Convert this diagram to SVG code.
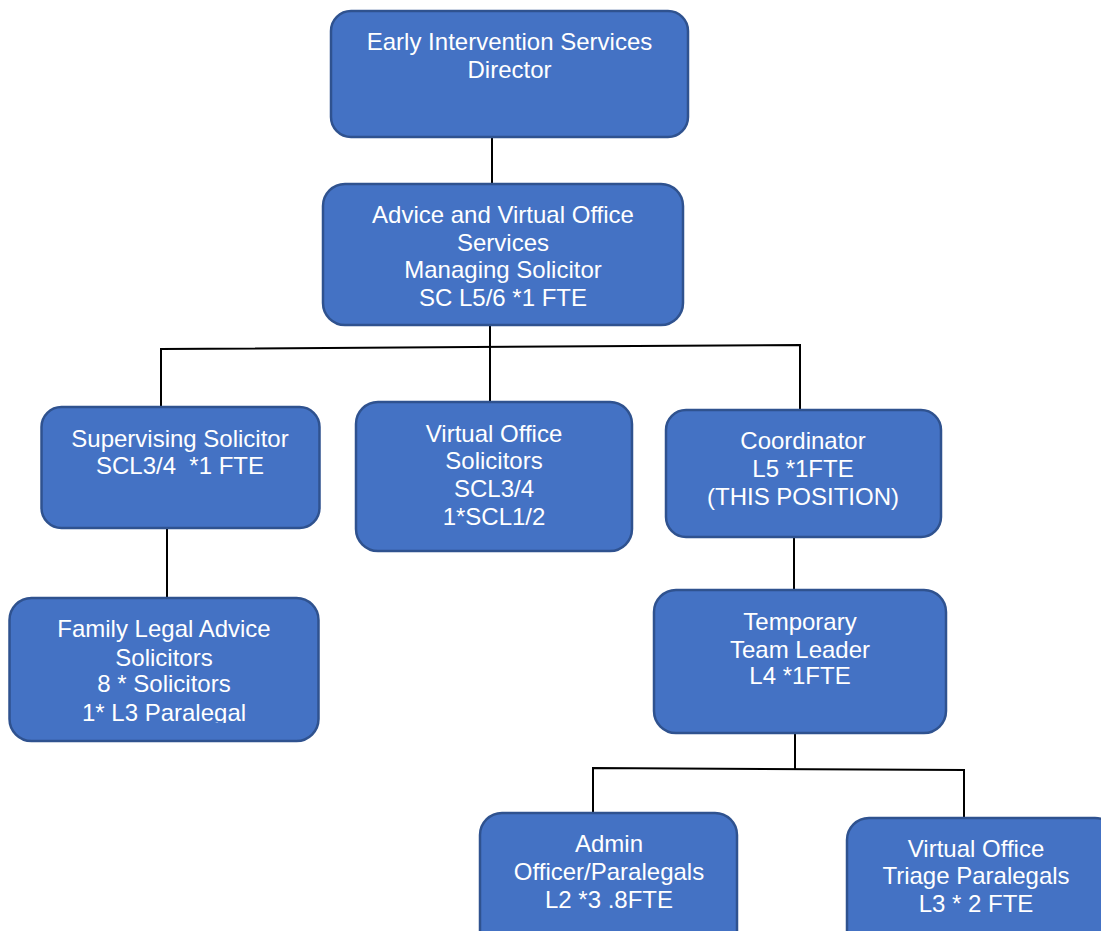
<svg xmlns="http://www.w3.org/2000/svg" width="1101" height="931" viewBox="0 0 1101 931">
<style>
.box{fill:#4472C4;stroke:#2F528F;stroke-width:2.5}
.t{font-family:"Liberation Sans",Arial,sans-serif;font-size:24px;fill:#fff;text-anchor:middle}
.c{fill:none;stroke:#000;stroke-width:2}
</style>
<rect width="1101" height="931" fill="#fff"/>
<defs><clipPath id="famclip"><rect x="0" y="590" width="340" height="133"/></clipPath></defs>
<g id="connectors">
<path class="c" d="M492 137V184"/>
<path class="c" d="M490 325V347"/>
<path class="c" d="M161 407V349L800 345V411"/>
<path class="c" d="M490 347V402"/>
<path class="c" d="M167 529V599"/>
<path class="c" d="M794 537V590"/>
<path class="c" d="M795 733V769"/>
<path class="c" d="M593 814V768L964 770V819"/>
</g>
<g id="director">
<rect class="box" x="331" y="11" width="357" height="126" rx="20"/>
<text class="t" x="509.5" y="50">Early Intervention Services</text>
<text class="t" x="509.5" y="78">Director</text>
</g>
<g id="managing">
<rect class="box" x="323" y="184" width="360" height="141" rx="22"/>
<text class="t" x="503" y="223">Advice and Virtual Office</text>
<text class="t" x="503" y="251">Services</text>
<text class="t" x="503" y="278">Managing Solicitor</text>
<text class="t" x="503" y="306">SC L5/6 *1 FTE</text>
</g>
<g id="supervising">
<rect class="box" x="41.5" y="407" width="278" height="121" rx="20"/>
<text class="t" x="180" y="447">Supervising Solicitor</text>
<text class="t" x="180" y="474" xml:space="preserve">SCL3/4  *1 FTE</text>
</g>
<g id="vo-solicitors">
<rect class="box" x="356" y="402" width="276" height="149" rx="22"/>
<text class="t" x="494" y="442">Virtual Office</text>
<text class="t" x="494" y="469">Solicitors</text>
<text class="t" x="494" y="497">SCL3/4</text>
<text class="t" x="494" y="525">1*SCL1/2</text>
</g>
<g id="coordinator">
<rect class="box" x="666" y="410" width="275" height="127" rx="20"/>
<text class="t" x="803" y="449">Coordinator</text>
<text class="t" x="803" y="477">L5 *1FTE</text>
<text class="t" x="803" y="505">(THIS POSITION)</text>
</g>
<g id="family">
<rect class="box" x="9.5" y="598" width="309" height="143" rx="22"/>
<text class="t" x="164" y="637">Family Legal Advice</text>
<text class="t" x="164" y="666">Solicitors</text>
<text class="t" x="164" y="692">8 * Solicitors</text>
<text class="t" x="164" y="721" clip-path="url(#famclip)">1* L3 Paralegal</text>
</g>
<g id="team-leader">
<rect class="box" x="654" y="590" width="292" height="143" rx="22"/>
<text class="t" x="800" y="630">Temporary</text>
<text class="t" x="800" y="658">Team Leader</text>
<text class="t" x="800" y="684">L4 *1FTE</text>
</g>
<g id="admin">
<rect class="box" x="480" y="813" width="257" height="140" rx="22"/>
<text class="t" x="609" y="852">Admin</text>
<text class="t" x="609" y="880">Officer/Paralegals</text>
<text class="t" x="609" y="908">L2 *3 .8FTE</text>
</g>
<g id="triage">
<rect class="box" x="847" y="818" width="270" height="140" rx="22"/>
<text class="t" x="976" y="857">Virtual Office</text>
<text class="t" x="976" y="884">Triage Paralegals</text>
<text class="t" x="976" y="912">L3 * 2 FTE</text>
</g>
</svg>
